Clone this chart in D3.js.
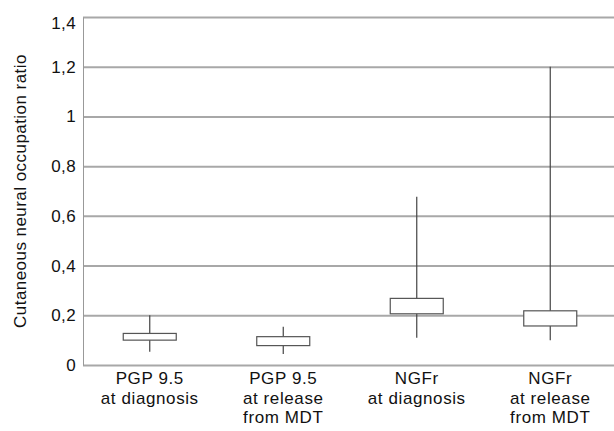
<!DOCTYPE html>
<html>
<head>
<meta charset="utf-8">
<script src="https://cdn.jsdelivr.net/npm/d3@7"></script>
<style>
  body { margin: 0; background: #fff; }
  text { font-family: "Liberation Sans", Arial, sans-serif; fill: #111; }
</style>
</head>
<body>
<svg id="chart" width="614" height="431"></svg>
<script>
// categories (each line of the label)
const categories = [
    ["PGP 9.5", "at diagnosis"],
    ["PGP 9.5", "at release", "from MDT"],
    ["NGFr", "at diagnosis"],
    ["NGFr", "at release", "from MDT"]
];
// box plot values
const whiskerLow  = [0.053, 0.044, 0.11, 0.10];
const quartile1   = [0.10, 0.078, 0.206, 0.157];
const quartile3   = [0.127, 0.114, 0.268, 0.218];
const whiskerHigh = [0.20, 0.154, 0.677, 1.20];
const yTicks = [0, 0.2, 0.4, 0.6, 0.8, 1, 1.2, 1.4];

const svg = d3.select('#chart');
const margin = { top: 17, right: -3, bottom: 66, left: 83 };
const width = 614 - margin.left - margin.right;
const height = 431 - margin.top - margin.bottom;

const g = svg.append('g')
    .attr('transform', `translate(${margin.left},${margin.top})`);

const xScale = d3.scaleBand()
    .domain(d3.range(categories.length))
    .range([0, width])
    .paddingInner(0).paddingOuter(0);

const yScale = d3.scaleLinear()
    .domain([0, 1.4])
    .range([height, 0]);

const fmt = d => d === 0 || d === 1 ? String(d) : d3.format('.1f')(d).replace('.', ',');

//grid lines
g.append('g')
    .attr('class', 'grid')
    .call(d3.axisLeft(yScale).tickValues(yTicks).tickSize(-width).tickFormat(''))
    .call(s => s.select('.domain').remove())
    .call(s => s.selectAll('line').attr('stroke', '#a8a8a8').attr('stroke-width', 2));

//y-axis
g.append('g')
    .attr('class', 'y-axis')
    .call(d3.axisLeft(yScale).tickValues(yTicks).tickSize(0).tickPadding(7).tickFormat(fmt))
    .call(s => s.select('.domain').attr('stroke', '#999').attr('stroke-width', 1))
    .call(s => s.selectAll('text')
        .attr('font-size', 17)
        .attr('letter-spacing', 0.4)
        .style('fill', '#111')
        .attr('dy', d => d === 1.4 ? '0.65em' : '0.32em'));

//x-axis labels
const xAxis = g.append('g')
    .attr('class', 'x-axis')
    .attr('transform', `translate(0,${height})`);
categories.forEach((lines, i) => {
    const t = xAxis.append('text')
        .attr('x', xScale(i) + xScale.bandwidth() / 2)
        .attr('y', 19)
        .attr('text-anchor', 'middle')
        .attr('font-size', 17)
        .attr('letter-spacing', 0.6);
    lines.forEach((l, j) => {
        t.append('tspan')
            .attr('x', xScale(i) + xScale.bandwidth() / 2)
            .attr('dy', j === 0 ? 0 : 19.5)
            .text(l);
    });
});

//axis title
svg.append('text')
    .attr('transform', `translate(26,${margin.top + height / 2}) rotate(-90)`)
    .attr('text-anchor', 'middle')
    .attr('font-size', 17)
    .attr('letter-spacing', 0.45)
    .text('Cutaneous neural occupation ratio');

//boxes
const boxW = 53;
const boxes = g.selectAll('.box')
    .data(categories.map((c, i) => i))
    .enter().append('g')
    .attr('class', 'box')
    .attr('transform', i => `translate(${xScale(i) + xScale.bandwidth() / 2},0)`);

boxes.append('line')
    .attr('x1', 0).attr('x2', 0)
    .attr('y1', i => yScale(whiskerHigh[i]))
    .attr('y2', i => yScale(whiskerLow[i]))
    .attr('stroke', '#444')
    .attr('stroke-width', 1.2);

boxes.append('rect')
    .attr('x', -boxW / 2)
    .attr('width', boxW)
    .attr('y', i => yScale(quartile3[i]))
    .attr('height', i => yScale(quartile1[i]) - yScale(quartile3[i]))
    .attr('fill', '#fff')
    .attr('stroke', '#555')
    .attr('stroke-width', 1.2);
</script>
</body>
</html>
